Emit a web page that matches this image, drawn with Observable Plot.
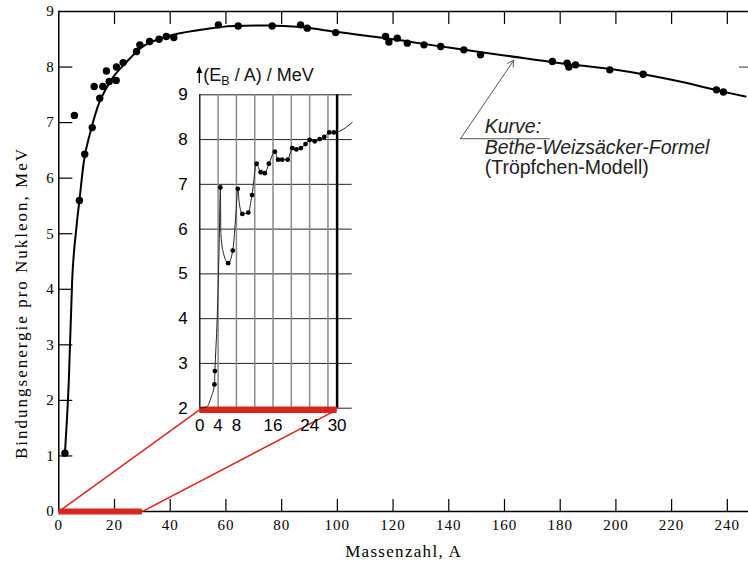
<!DOCTYPE html>
<html><head><meta charset="utf-8">
<script src="https://cdn.jsdelivr.net/npm/d3@7"></script>
<script src="https://cdn.jsdelivr.net/npm/@observablehq/plot@0.6"></script>
<style>
body{margin:0;background:#fff;}
#wrap{position:relative;width:748px;height:564px;overflow:hidden;}
#inset{position:absolute;left:170px;top:60px;}
</style></head><body><div id="wrap"><div id="main"></div><div id="inset"></div></div>
<script>
// ---------- data ----------
const dotA = [2.2,5.6,7.4,9.3,12.0,12.7,14.7,15.8,17.1,18.1,20.6,20.7,23.1,27.9,29.1,32.6,36.0,38.6,41.3,57.3,64.4,76.6,86.8,89.2,99.4,117.3,118.5,121.5,125.1,131.1,137.1,145.4,151.4,177.2,182.5,183.1,185.5,197.8,209.8,236.1,238.6];
const dotE = [1.05,7.13,5.60,6.43,6.91,7.65,7.44,7.65,7.93,7.74,7.76,8.00,8.08,8.28,8.40,8.46,8.50,8.55,8.53,8.76,8.74,8.74,8.76,8.70,8.62,8.55,8.45,8.52,8.43,8.40,8.37,8.31,8.22,8.10,8.07,8.00,8.04,7.95,7.87,7.59,7.55];
const curveA = [2.2,3.6,4.8,6.3,7.4,9.0,11.4,13.8,18.6,24.5,29.3,38.9,50.9,62.8,75,87,100,120,140,160,180,200,220,240,246.5];
const curveE = [1.05,2.36,4.16,5.1,5.6,6.30,6.84,7.26,7.75,8.10,8.34,8.55,8.67,8.74,8.75,8.72,8.63,8.50,8.35,8.21,8.07,7.95,7.77,7.54,7.47];
const xTicks = [0,20,40,60,80,100,120,140,160,180,200,220,240];
const yTicks = [0,1,2,3,4,5,6,7,8,9];
const zoomRange = [0, 30];

const insetDotA = [3.2,3.3,4.5,6.2,7.2,8.3,9.3,10.6,11.4,12.4,13.3,14.2,15.1,16.4,17.1,18.0,19.2,20.2,21.1,22.1,23.1,24.0,25.1,26.2,27.2,28.3,29.3];
const insetDotE = [2.53,2.83,6.93,5.24,5.52,6.90,6.34,6.37,6.76,7.46,7.27,7.25,7.46,7.73,7.55,7.55,7.55,7.81,7.78,7.81,7.90,7.99,7.96,8.01,8.06,8.16,8.16];
const insetCurveA = [0,1.5,2.5,3.2,3.3,3.8,4.2,4.5,4.6,5.2,6.2,7.2,7.8,8.3,8.6,9.3,10.6,11.4,12.4,13.3,14.2,15.1,16.4,17.1,18.0,19.2,20.2,21.1,22.1,23.1,24.0,25.1,26.2,27.2,28.3,29.3,33.3];
const insetCurveE = [2.0,2.03,2.25,2.53,2.83,4.0,5.5,6.93,5.9,5.45,5.24,5.52,6.2,6.90,6.6,6.34,6.37,6.76,7.46,7.27,7.25,7.46,7.73,7.55,7.55,7.55,7.81,7.78,7.81,7.90,7.99,7.96,8.01,8.06,8.16,8.16,8.38];
const insetXTicks = [0,4,8,16,24,30];
const insetGridX = [4,8,12,16,20,24,28];
const insetYTicks = [2,3,4,5,6,7,8,9];

const annotLines = ["Kurve:", "Bethe-Weizsäcker-Formel", "(Tröpfchen-Modell)"];
const annotItalic = [true, true, false];
const annotX = 152.9;
const annotE = [6.81, 6.44, 6.07];
const leader = {cornerA: 144.2, cornerE: 6.71, tipA: 163.3, tipE: 8.12, endA: 176.5};

const xLabel = "Massenzahl, A";
const yLabel = "Bindungsenergie pro Nukleon, MeV";
const RED = "#d7261e";

// ---------- layout ----------
const W = 748, H = 564, mL = 58.3, mR = 0, mT = 11, mB = 53;
const plotW = W - mL - mR, plotH = H - mT - mB;
const xMax = 247.6;
const iLeft = 170, iTop = 60, iW = 190, iH = 380, imL = 29.3, imR = 8.3, imT = 34.3, imB = 32.3;
const iXMax = 33.3;

const xS = Plot.scale({x: {domain: [0, xMax], range: [mL, W - mR]}});
const yS = Plot.scale({y: {domain: [0, 9], range: [H - mB, mT]}});
const ixS = Plot.scale({x: {domain: [0, iXMax], range: [imL, iW - imR]}});
const iyS = Plot.scale({y: {domain: [2, 9], range: [iH - imB, imT]}});

const links = zoomRange.map(v => ({
  x1: v, y1: 0,
  x2: xS.invert(iLeft + ixS.apply(v)),
  y2: yS.invert(iTop + iyS.apply(2) + 1.5)
}));

const dots = dotA.map((a, i) => ({a, e: dotE[i]}));
const curve = curveA.map((a, i) => ({a, e: curveE[i]}));
const annot = annotLines.map((t, i) => ({t, a: annotX, e: annotE[i], it: annotItalic[i]}));

const main = Plot.plot({
  width: W, height: H,
  marginLeft: mL, marginRight: mR, marginTop: mT, marginBottom: mB,
  x: {domain: [0, xMax]},
  y: {domain: [0, 9]},
  style: {fontFamily: "'Liberation Serif', 'DejaVu Serif', serif", fontSize: "15px", background: "white", color: "black"},
  marks: [
    Plot.ruleY([0, 9], {stroke: "black", strokeWidth: 1.3}),
    Plot.ruleX([0], {stroke: "black", strokeWidth: 1.5}),
    Plot.tickX(xTicks.filter(d => d > 0), {x: d => d, insetTop: plotH - 12, stroke: "black", strokeWidth: 1.2}),
    Plot.tickX(xTicks.filter(d => d > 0), {x: d => d, insetBottom: plotH - 13, stroke: "black", strokeWidth: 1.2}),
    Plot.tickY(yTicks.filter(d => d > 0 && d < 9), {y: d => d, insetRight: plotW - 14, stroke: "black", strokeWidth: 1.2}),
    Plot.tickY([8], {y: d => d, insetLeft: plotW - 9, stroke: "#555", strokeWidth: 1.2}),
    Plot.axisX(xTicks, {tickSize: 0, tickPadding: 8, label: null, fontSize: 15, tickFormat: d3.format("d")}),
    Plot.axisY(yTicks, {tickSize: 0, tickPadding: 5, label: null, fontSize: 15, tickFormat: d3.format("d")}),
    Plot.text([xLabel], {frameAnchor: "bottom", dy: 45, lineAnchor: "bottom", fontSize: 17}),
    Plot.link(links, {x1: "x1", y1: "y1", x2: "x2", y2: "y2", stroke: RED, strokeWidth: 1.5}),
    Plot.ruleY([0], {x1: () => zoomRange[0], x2: () => zoomRange[1], stroke: RED, strokeWidth: 6}),
    Plot.line(curve, {x: "a", y: "e", curve: "monotone-x", stroke: "black", strokeWidth: 2}),
    Plot.dot(dots, {x: "a", y: "e", r: 3.7, fill: "black", stroke: "none"}),
    Plot.arrow([leader], {x1: "cornerA", y1: "cornerE", x2: "tipA", y2: "tipE", stroke: "#555", strokeWidth: 1, headLength: 10}),
    Plot.ruleY([leader], {y: "cornerE", x1: "cornerA", x2: "endA", stroke: "#555", strokeWidth: 1}),
    Plot.text(annot.filter(d => d.it), {x: "a", y: "e", text: "t", textAnchor: "start", lineAnchor: "bottom", fontFamily: "'Liberation Sans', Arial, sans-serif", fontStyle: "italic", fontSize: 19.5, fill: "#222"}),
    Plot.text(annot.filter(d => !d.it), {x: "a", y: "e", text: "t", textAnchor: "start", lineAnchor: "bottom", fontFamily: "'Liberation Sans', Arial, sans-serif", fontSize: 19.5, fill: "#222"})
  ]
});
document.getElementById("main").append(main);
d3.select(main).selectAll("text").filter(function(){ return this.textContent === xLabel; }).style("letter-spacing", "1.3px");
d3.select(main).selectAll('g[aria-label="x-axis tick label"] text').style("letter-spacing", "1px");
// y-axis title (rotated)
d3.select(main).append("text")
  .attr("transform", `translate(21,${(yS.apply(0) + yS.apply(9)) / 2 + 42}) rotate(-90)`)
  .attr("text-anchor", "middle").attr("dominant-baseline", "central")
  .attr("font-size", 17).style("letter-spacing", "2px")
  .attr("fill", "black").text(yLabel);

// ---------- inset ----------
const idots = insetDotA.map((a, i) => ({a, e: insetDotE[i]}));
const icurve = insetCurveA.map((a, i) => ({a, e: insetCurveE[i]}));
const inset = Plot.plot({
  width: iW, height: iH,
  marginLeft: imL, marginRight: imR, marginTop: imT, marginBottom: imB,
  x: {domain: [0, iXMax]},
  y: {domain: [2, 9]},
  style: {fontFamily: "'Liberation Sans', Arial, sans-serif", fontSize: "17px", background: "transparent", color: "black", overflow: "visible"},
  marks: [
    Plot.ruleY(insetYTicks, {y: d => d, stroke: "#222", strokeWidth: 1}),
    Plot.ruleX(insetGridX, {x: d => d, y1: 2, y2: 9, stroke: "#8a8a8a", strokeWidth: 1.5}),
    Plot.ruleX([30], {x: d => d, y1: 2, y2: 9, stroke: "black", strokeWidth: 2.5}),
    Plot.ruleX([0], {x: d => d, y1: 2, y2: 9, stroke: "black", strokeWidth: 1.3}),
    Plot.ruleY([2], {y: d => d, x1: () => zoomRange[0], x2: () => zoomRange[1], stroke: RED, strokeWidth: 6.5, dy: 1.5}),
    Plot.line(icurve, {x: "a", y: "e", curve: "monotone-x", stroke: "#222", strokeWidth: 1}),
    Plot.dot(idots, {x: "a", y: "e", r: 2.4, fill: "black", stroke: "none"}),
    Plot.axisX(insetXTicks, {tickSize: 0, tickPadding: 11, label: null, fontSize: 17}),
    Plot.axisY(insetYTicks, {tickSize: 0, tickPadding: 12, label: null, fontSize: 17})
  ]
});
document.getElementById("inset").append(inset);
// inset axis title with subscript and up arrow
const isvg = d3.select(inset);
const ax0 = ixS.apply(0);
const tBase = 81 - iTop;
isvg.append("path")
  .attr("d", `M${ax0},${tBase + 2}V${tBase - 9}`)
  .attr("stroke", "black").attr("stroke-width", 1.3);
isvg.append("path")
  .attr("d", `M${ax0 - 3},${tBase - 8}L${ax0},${tBase - 15}L${ax0 + 3},${tBase - 8}Z`)
  .attr("fill", "black");
const tt = isvg.append("text")
  .attr("x", ax0 + 4).attr("y", tBase).attr("text-anchor", "start")
  .attr("font-family", "'Liberation Sans', Arial, sans-serif").attr("font-size", 18).attr("fill", "#111");
tt.append("tspan").text("(E");
tt.append("tspan").attr("dy", 4).attr("font-size", 12.5).text("B");
tt.append("tspan").attr("dy", -4).text(" / A) / MeV");
</script></body></html>
